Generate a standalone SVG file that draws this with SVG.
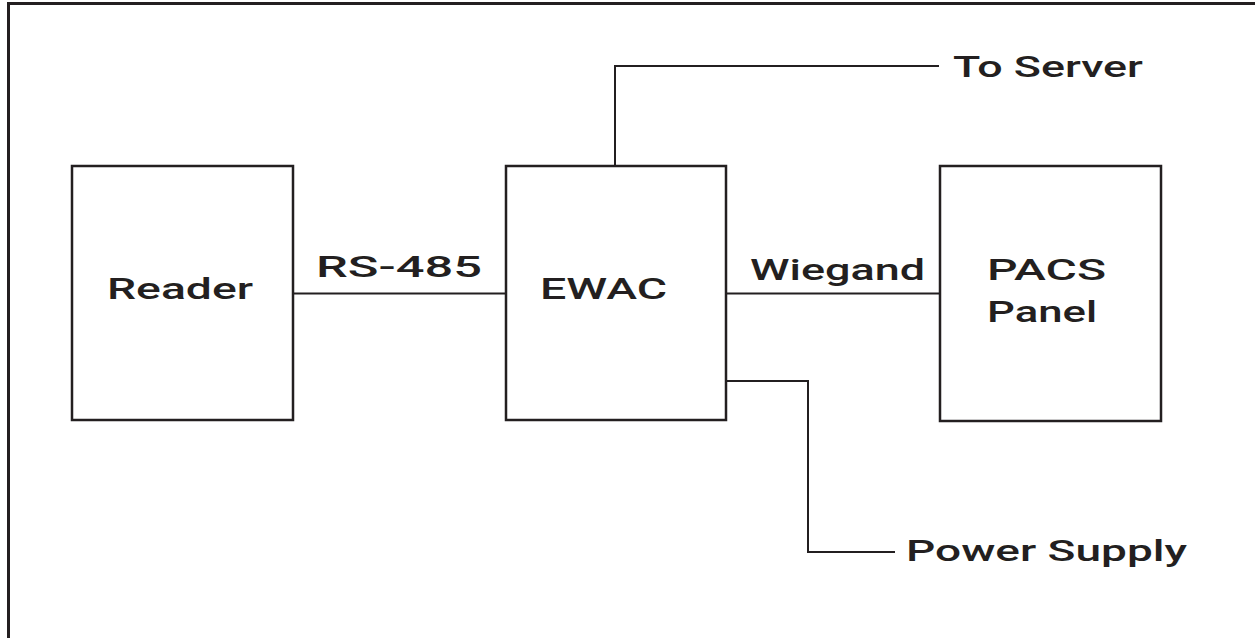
<svg xmlns="http://www.w3.org/2000/svg" width="1255" height="638" viewBox="0 0 1255 638">
<style>
.box{fill:#fff;stroke:#231f20;stroke-width:2.5}
.wire{fill:none;stroke:#231f20;stroke-width:2}
.frame{fill:none;stroke:#231f20;stroke-width:3}
text{font-family:Roboto,"Liberation Sans",Arial,sans-serif;font-size:30px;font-weight:500;fill:#231f20}
</style>
<rect width="1255" height="638" fill="#fff"/>
<path class="frame" d="M8.5,638 V3.5 H1255"/>
<g id="connectors">
<path class="wire" d="M293,293.5 H506"/>
<path class="wire" d="M726,293.5 H940"/>
<path class="wire" d="M615,166 V66 H939"/>
<path class="wire" d="M726,381 H808 V552 H895"/>
</g>
<g id="reader">
<rect class="box" x="72" y="166" width="221" height="254"/>
<text transform="translate(107,299) scale(1.45,1)" textLength="100.7" lengthAdjust="spacingAndGlyphs">Reader</text>
</g>
<g id="ewac">
<rect class="box" x="506" y="166" width="220" height="254"/>
<text transform="translate(540,299) scale(1.45,1)" textLength="87.6" lengthAdjust="spacingAndGlyphs">EWAC</text>
</g>
<g id="pacs">
<rect class="box" x="940" y="166" width="221" height="255"/>
<text transform="translate(987,280) scale(1.45,1)" textLength="82.1" lengthAdjust="spacingAndGlyphs">PACS</text>
<text transform="translate(987,322) scale(1.45,1)" textLength="75.9" lengthAdjust="spacingAndGlyphs">Panel</text>
</g>
<g id="labels">
<text transform="translate(316,277) scale(1.45,1)" textLength="114.5" lengthAdjust="spacingAndGlyphs">RS-485</text>
<text transform="translate(750,280) scale(1.45,1)" textLength="120.7" lengthAdjust="spacingAndGlyphs">Wiegand</text>
<text transform="translate(953,77) scale(1.45,1)" textLength="131" lengthAdjust="spacingAndGlyphs">To Server</text>
<text transform="translate(906,561) scale(1.45,1)" textLength="193.8" lengthAdjust="spacingAndGlyphs">Power Supply</text>
</g>
</svg>
